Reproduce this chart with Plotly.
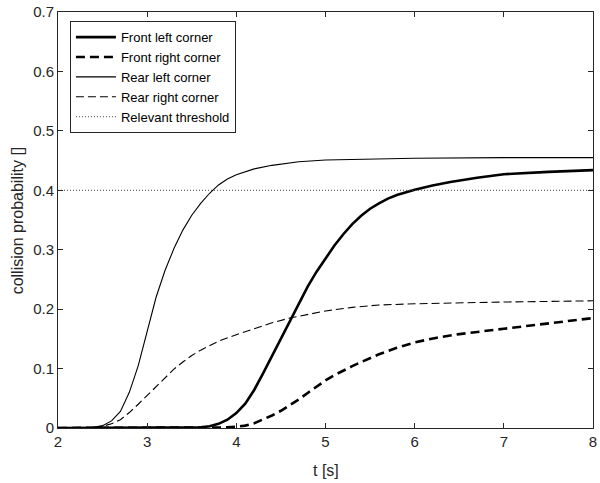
import plotly.graph_objects as go

# ---- data ----
t_front_left = [2.0, 3.5, 3.6, 3.7, 3.8, 3.9, 4.0, 4.1, 4.2, 4.3, 4.4, 4.5, 4.6, 4.7, 4.8, 4.9, 5.0, 5.1, 5.2, 5.3, 5.4, 5.5, 5.6, 5.7, 5.8, 5.9, 6.0, 6.2, 6.4, 6.7, 7.0, 7.5, 8.0]
p_front_left = [0.0, 0.0, 0.001, 0.003, 0.007, 0.014, 0.025, 0.041, 0.064, 0.092, 0.121, 0.151, 0.181, 0.21, 0.238, 0.263, 0.286, 0.307, 0.326, 0.343, 0.357, 0.369, 0.378, 0.386, 0.392, 0.397, 0.401, 0.408, 0.414, 0.421, 0.427, 0.431, 0.434]

t_front_right = [2.0, 3.7, 3.9, 4.0, 4.1, 4.2, 4.3, 4.4, 4.5, 4.6, 4.7, 4.8, 4.9, 5.0, 5.1, 5.2, 5.3, 5.4, 5.6, 5.8, 6.0, 6.25, 6.5, 7.0, 7.5, 8.0]
p_front_right = [0.0, 0.0, 0.001, 0.002, 0.004, 0.008, 0.014, 0.021, 0.029, 0.038, 0.048, 0.059, 0.07, 0.08, 0.089, 0.097, 0.104, 0.111, 0.124, 0.135, 0.144, 0.152, 0.158, 0.167, 0.176, 0.185]

t_rear_left = [2.0, 2.3, 2.4, 2.5, 2.6, 2.7, 2.8, 2.9, 3.0, 3.1, 3.2, 3.3, 3.4, 3.5, 3.6, 3.7, 3.8, 3.9, 4.0, 4.2, 4.4, 4.7, 5.0, 5.5, 6.0, 7.0, 8.0]
p_rear_left = [0.0, 0.0, 0.001, 0.004, 0.012, 0.028, 0.06, 0.105, 0.165, 0.22, 0.265, 0.302, 0.333, 0.358, 0.378, 0.395, 0.409, 0.419, 0.426, 0.436, 0.442, 0.448, 0.451, 0.453, 0.454, 0.455, 0.455]

t_rear_right = [2.0, 2.3, 2.4, 2.5, 2.6, 2.7, 2.8, 2.9, 3.0, 3.1, 3.2, 3.3, 3.4, 3.5, 3.6, 3.8, 4.0, 4.2, 4.4, 4.6, 4.8, 5.0, 5.3, 5.6, 6.0, 6.5, 7.0, 8.0]
p_rear_right = [0.0, 0.0, 0.001, 0.003, 0.007, 0.014, 0.026, 0.04, 0.055, 0.07, 0.085, 0.099, 0.111, 0.122, 0.131, 0.146, 0.157, 0.167, 0.177, 0.185, 0.191, 0.197, 0.203, 0.207, 0.209, 0.211, 0.212, 0.214]

t_threshold = [2.0, 8.0]
p_threshold = [0.4, 0.4]

x_ticks = [2, 3, 4, 5, 6, 7, 8]
y_ticks = [0, 0.1, 0.2, 0.3, 0.4, 0.5, 0.6, 0.7]
y_tick_labels = ["0", "0.1", "0.2", "0.3", "0.4", "0.5", "0.6", "0.7"]

AX = "#262626"
FONT = "Liberation Sans, Arial, Helvetica, sans-serif"

fig = go.Figure()
fig.add_trace(go.Scatter(x=t_front_left, y=p_front_left, mode="lines", name="Front left corner",
                         line=dict(color="black", width=2.6)))
fig.add_trace(go.Scatter(x=t_front_right, y=p_front_right, mode="lines", name="Front right corner",
                         line=dict(color="black", width=2.6, dash="9px,5px")))
fig.add_trace(go.Scatter(x=t_rear_left, y=p_rear_left, mode="lines", name="Rear left corner",
                         line=dict(color="black", width=1.1)))
fig.add_trace(go.Scatter(x=t_rear_right, y=p_rear_right, mode="lines", name="Rear right corner",
                         line=dict(color="black", width=1.1, dash="8px,4px")))
fig.add_trace(go.Scatter(x=t_threshold, y=p_threshold, mode="lines", name="Relevant threshold",
                         line=dict(color="#444444", width=1, dash="1px,2px")))

axis_common = dict(showline=True, linecolor=AX, linewidth=1, mirror="ticks", ticks="inside",
                   ticklen=5, tickcolor=AX, tickwidth=1, showgrid=False, zeroline=False,
                   tickfont=dict(family=FONT, size=15, color=AX), ticklabeloverflow="allow")

fig.update_xaxes(range=[2, 8], tickvals=x_ticks, **axis_common)
fig.update_yaxes(range=[0, 0.7], tickvals=y_ticks, ticktext=y_tick_labels, **axis_common)

fig.update_layout(
    width=600, height=483,
    margin=dict(l=58, r=3, t=12, b=55),
    paper_bgcolor="white", plot_bgcolor="white",
    font=dict(family=FONT, color=AX),
    legend=dict(x=0.0223, y=0.978, xanchor="left", yanchor="top",
                bgcolor="white", bordercolor=AX, borderwidth=1,
                font=dict(family=FONT, size=13, color="black"),
                itemwidth=40, tracegroupgap=0),
    annotations=[
        dict(text="t [s]", xref="paper", yref="paper", x=0.5, y=-0.103, yanchor="middle",
             showarrow=False, font=dict(family=FONT, size=16, color=AX)),
        dict(text="collision probability []", xref="paper", yref="paper", x=-0.076, y=0.5,
             xanchor="center", yanchor="middle", textangle=-90,
             showarrow=False, font=dict(family=FONT, size=16, color=AX)),
    ],
)

fig.write_html("out.html")
